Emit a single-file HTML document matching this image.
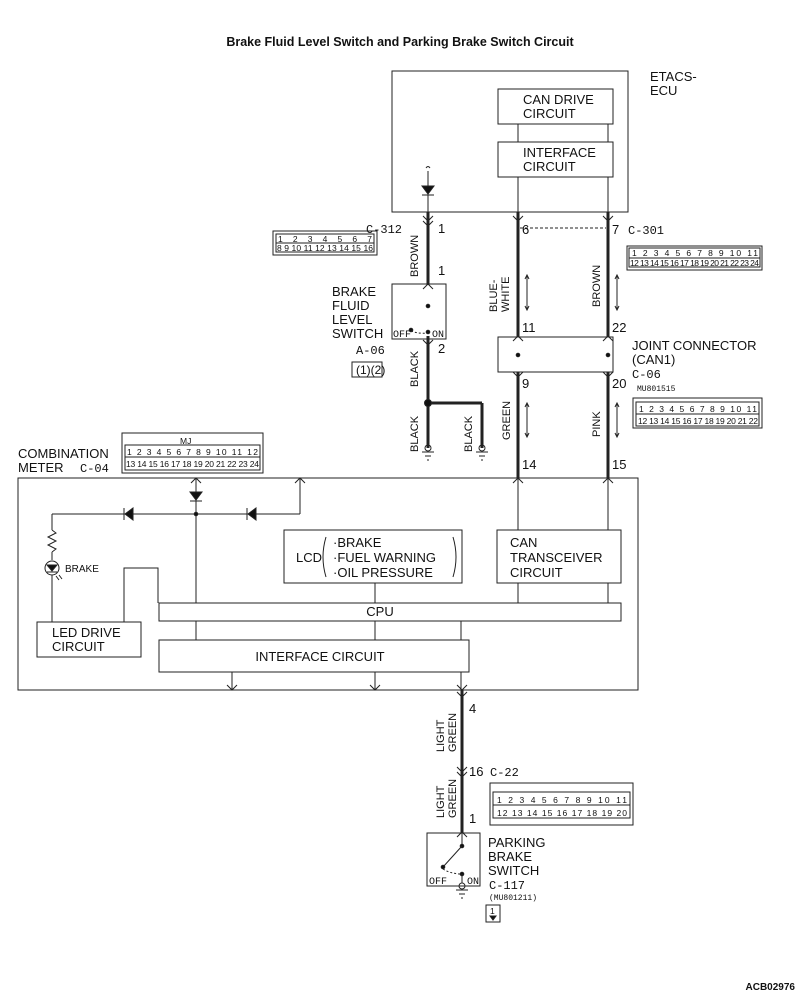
<!DOCTYPE html>
<html><head><meta charset="utf-8"><style>
html,body{margin:0;padding:0;background:#fff;width:800px;height:994px;overflow:hidden}
svg{display:block}
text{font-family:"Liberation Sans",sans-serif;fill:#111}
.t{font-size:13px}
.s{font-size:12px}
.c{font-size:8.5px}
.m{font-family:"Liberation Mono",monospace;font-size:12px}
</style></head><body>
<svg width="800" height="994" viewBox="0 0 800 994" xmlns="http://www.w3.org/2000/svg" fill="none" stroke="#222" stroke-width="1">
<text x="400" y="46" text-anchor="middle" style="font-size:12.5px;font-weight:bold" stroke="none">Brake Fluid Level Switch and Parking Brake Switch Circuit</text>

<!-- ETACS ECU -->
<rect x="392" y="71" width="236" height="141"/>
<text x="650" y="81" class="t" stroke="none">ETACS-</text>
<text x="650" y="95" class="t" stroke="none">ECU</text>
<rect x="498" y="89" width="115" height="35"/>
<text x="523" y="104" class="t" stroke="none">CAN DRIVE</text>
<text x="523" y="118" class="t" stroke="none">CIRCUIT</text>
<rect x="498" y="142" width="115" height="35"/>
<text x="523" y="157" class="t" stroke="none">INTERFACE</text>
<text x="523" y="171" class="t" stroke="none">CIRCUIT</text>
<line x1="518" y1="124" x2="518" y2="142"/><line x1="608" y1="124" x2="608" y2="142"/>
<line x1="518" y1="177" x2="518" y2="212"/><line x1="608" y1="177" x2="608" y2="212"/>
<line x1="428" y1="171" x2="428" y2="212"/>
<path d="M426 168 q2 -3 4 0" />
<polygon points="422,186 434,186 428,194" fill="#111"/><line x1="422" y1="195" x2="434" y2="195"/>
<line x1="520" y1="228" x2="606" y2="228" stroke-dasharray="3,2"/>

<!-- main wires -->
<g stroke-width="3">
<line x1="428" y1="212" x2="428" y2="285"/>
<line x1="428" y1="336" x2="428" y2="448"/>
<line x1="428" y1="403" x2="482" y2="403"/><line x1="482" y1="403" x2="482" y2="448"/>
<line x1="518" y1="212" x2="518" y2="337"/>
<line x1="518" y1="372" x2="518" y2="478"/>
<line x1="608" y1="212" x2="608" y2="337"/>
<line x1="608" y1="372" x2="608" y2="478"/>
<line x1="462" y1="690" x2="462" y2="833"/>
</g>
<circle cx="428" cy="403" r="3.5" fill="#111"/>
<!-- chevrons -->
<g stroke-width="1">
<path d="M423 216 l5 5 l5 -5 M423 221 l5 5 l5 -5"/>
<path d="M513 216 l5 5 l5 -5 M603 216 l5 5 l5 -5"/>
<path d="M423 289 l5 -5 l5 5 M423 340 l5 5 l5 -5"/>
<path d="M513 341 l5 -5 l5 5 M603 341 l5 -5 l5 5 M513 372 l5 5 l5 -5 M603 372 l5 5 l5 -5"/>
<path d="M513 483 l5 -5 l5 5 M603 483 l5 -5 l5 5"/>
<path d="M457 767 l5 5 l5 -5 M457 772 l5 5 l5 -5 M457 837 l5 -5 l5 5"/>
</g>
<!-- grounds -->
<g>
<circle cx="428" cy="448" r="3"/><line x1="422" y1="452" x2="434" y2="452"/><line x1="425" y1="456" x2="431" y2="456"/><line x1="427" y1="460" x2="429" y2="460"/>
<circle cx="482" cy="448" r="3"/><line x1="476" y1="452" x2="488" y2="452"/><line x1="479" y1="456" x2="485" y2="456"/><line x1="481" y1="460" x2="483" y2="460"/>
</g>
<!-- wire labels -->
<text x="366" y="233" class="m" stroke="none">C-312</text>
<text x="438" y="233" class="t" stroke="none">1</text>
<text x="438" y="275" class="t" stroke="none">1</text>
<text x="438" y="353" class="t" stroke="none">2</text>
<text x="522" y="234" class="t" stroke="none">6</text>
<text x="612" y="234" class="t" stroke="none">7</text>
<text x="628" y="234" class="m" stroke="none">C-301</text>
<text x="522" y="332" class="t" stroke="none">11</text>
<text x="612" y="332" class="t" stroke="none">22</text>
<text x="522" y="388" class="t" stroke="none">9</text>
<text x="612" y="388" class="t" stroke="none">20</text>
<text x="522" y="469" class="t" stroke="none">14</text>
<text x="612" y="469" class="t" stroke="none">15</text>
<g stroke="none" style="font-size:11px">
<text transform="translate(418,277) rotate(-90)">BROWN</text>
<text transform="translate(418,387) rotate(-90)">BLACK</text>
<text transform="translate(418,452) rotate(-90)">BLACK</text>
<text transform="translate(472,452) rotate(-90)">BLACK</text>
<text transform="translate(497,312) rotate(-90)">BLUE-</text>
<text transform="translate(509,312) rotate(-90)">WHITE</text>
<text transform="translate(600,307) rotate(-90)">BROWN</text>
<text transform="translate(510,440) rotate(-90)">GREEN</text>
<text transform="translate(600,437) rotate(-90)">PINK</text>
<text transform="translate(444,752) rotate(-90)">LIGHT</text>
<text transform="translate(456,752) rotate(-90)">GREEN</text>
<text transform="translate(444,818) rotate(-90)">LIGHT</text>
<text transform="translate(456,818) rotate(-90)">GREEN</text>
</g>
<!-- double arrows -->
<g>
<line x1="527" y1="275" x2="527" y2="310"/><path d="M525 279 l2 -4 l2 4 M525 306 l2 4 l2 -4"/>
<line x1="617" y1="275" x2="617" y2="310"/><path d="M615 279 l2 -4 l2 4 M615 306 l2 4 l2 -4"/>
<line x1="527" y1="403" x2="527" y2="437"/><path d="M525 407 l2 -4 l2 4 M525 433 l2 4 l2 -4"/>
<line x1="617" y1="403" x2="617" y2="437"/><path d="M615 407 l2 -4 l2 4 M615 433 l2 4 l2 -4"/>
</g>

<!-- brake fluid switch -->
<rect x="392" y="284" width="54" height="55"/>
<circle cx="428" cy="306" r="1.8" fill="#111"/><circle cx="411" cy="330" r="1.8" fill="#111"/><circle cx="428" cy="332" r="1.8" fill="#111"/>
<path d="M411 331 q8 3 16 2" stroke-dasharray="2,2"/>
<text x="332" y="296" class="t" stroke="none">BRAKE</text>
<text x="332" y="310" class="t" stroke="none">FLUID</text>
<text x="332" y="324" class="t" stroke="none">LEVEL</text>
<text x="332" y="338" class="t" stroke="none">SWITCH</text>
<text x="393" y="337" class="m" stroke="none" style="font-size:10px">OFF</text>
<text x="432" y="337" class="m" stroke="none" style="font-size:10px">ON</text>
<text x="356" y="354" class="m" stroke="none">A-06</text>
<rect x="352" y="362" width="30" height="15"/><text x="356" y="374" class="s" stroke="none">(1)(2)</text>

<!-- joint connector -->
<rect x="498" y="337" width="115" height="35"/>
<circle cx="518" cy="355" r="1.8" fill="#111"/><circle cx="608" cy="355" r="1.8" fill="#111"/>
<text x="632" y="350" class="t" stroke="none">JOINT CONNECTOR</text>
<text x="632" y="364" class="t" stroke="none">(CAN1)</text>
<text x="632" y="378" class="m" stroke="none">C-06</text>
<text x="637" y="391" class="m" stroke="none" style="font-size:8px">MU801515</text>

<!-- connector C-312 -->
<rect x="273" y="231" width="104" height="24"/>
<rect x="276" y="234" width="98" height="18"/><line x1="276" y1="243" x2="374" y2="243"/>
<text x="278" y="242" class="c" stroke="none" textLength="94" lengthAdjust="spacing">1 2 3 4    5 6 7</text>
<text x="277" y="251" class="c" stroke="none" textLength="96" lengthAdjust="spacing">8 9 10 11 12 13 14 15 16</text>
<!-- connector C-301 -->
<rect x="627" y="246" width="135" height="24"/>
<rect x="629" y="248" width="131" height="19"/><line x1="629" y1="258" x2="760" y2="258"/>
<text x="632" y="256" class="c" stroke="none" textLength="126" lengthAdjust="spacing">1 2 3 4 5      6 7 8 9 10 11</text>
<text x="630" y="266" class="c" stroke="none" textLength="129" lengthAdjust="spacing">12 13 14 15 16 17 18 19 20 21 22 23 24</text>
<!-- connector C-06 -->
<rect x="633" y="398" width="129" height="30"/>
<rect x="636" y="402" width="123" height="24"/><line x1="636" y1="414" x2="759" y2="414"/>
<text x="639" y="412" class="c" stroke="none" textLength="118" lengthAdjust="spacing">1 2 3 4 5 6 7 8 9 10 11</text>
<text x="638" y="424" class="c" stroke="none" textLength="120" lengthAdjust="spacing">12 13 14 15 16 17 18 19 20 21 22</text>
<!-- connector C-04 -->
<rect x="122" y="433" width="141" height="40"/>
<rect x="125" y="445" width="135" height="25"/><line x1="125" y1="457" x2="260" y2="457"/>
<text x="180" y="444" class="c" stroke="none">MJ</text>
<text x="127" y="455" class="c" stroke="none" textLength="131" lengthAdjust="spacing">1 2 3 4 5 6 7 8 9 10 11 12</text>
<text x="126" y="467" class="c" stroke="none" textLength="133" lengthAdjust="spacing">13 14 15 16 17 18 19 20 21 22 23 24</text>
<text x="18" y="458" class="t" stroke="none">COMBINATION</text>
<text x="18" y="472" class="t" stroke="none">METER</text>
<text x="80" y="472" class="m" stroke="none">C-04</text>

<!-- combination meter -->
<rect x="18" y="478" width="620" height="212"/>
<line x1="196" y1="478" x2="196" y2="603"/>
<path d="M191 483 l5 -5 l5 5"/>
<polygon points="190,492 202,492 196,500" fill="#111"/><line x1="190" y1="501" x2="202" y2="501"/>
<line x1="52" y1="514" x2="300" y2="514"/><line x1="300" y1="514" x2="300" y2="478"/>
<path d="M295 483 l5 -5 l5 5"/>
<circle cx="196" cy="514" r="1.8" fill="#111"/>
<polygon points="133,508 133,520 125,514" fill="#111"/><line x1="124" y1="508" x2="124" y2="520"/>
<polygon points="256,508 256,520 248,514" fill="#111"/><line x1="247" y1="508" x2="247" y2="520"/>
<line x1="52" y1="514" x2="52" y2="530"/>
<path d="M52 530 l4 3 l-8 4 l8 4 l-8 4 l8 4 l-4 3"/>
<line x1="52" y1="552" x2="52" y2="560"/>
<circle cx="52" cy="568" r="7"/><polygon points="47,565 57,565 52,571" fill="#111"/><line x1="47" y1="572" x2="57" y2="572"/>
<path d="M56 576 l3 4 M59 575 l3 4"/>
<text x="65" y="572" stroke="none" style="font-size:10px">BRAKE</text>
<line x1="52" y1="575" x2="52" y2="622"/>
<rect x="37" y="622" width="104" height="35"/>
<text x="52" y="637" class="t" stroke="none">LED DRIVE</text>
<text x="52" y="651" class="t" stroke="none">CIRCUIT</text>
<path d="M124 622 V568 H158 V603"/>
<rect x="284" y="530" width="178" height="53"/>
<text x="296" y="562" class="t" stroke="none">LCD</text>
<path d="M326 537 q-6 20 0 40 M453 537 q6 20 0 40"/>
<text x="333" y="547" class="t" stroke="none">·BRAKE</text>
<text x="333" y="562" class="t" stroke="none">·FUEL WARNING</text>
<text x="333" y="577" class="t" stroke="none">·OIL PRESSURE</text>
<rect x="497" y="530" width="124" height="53"/>
<text x="510" y="547" class="t" stroke="none">CAN</text>
<text x="510" y="562" class="t" stroke="none">TRANSCEIVER</text>
<text x="510" y="577" class="t" stroke="none">CIRCUIT</text>
<line x1="518" y1="478" x2="518" y2="530"/><line x1="608" y1="478" x2="608" y2="530"/>
<line x1="518" y1="583" x2="518" y2="603"/><line x1="608" y1="583" x2="608" y2="603"/>
<line x1="375" y1="583" x2="375" y2="603"/>
<rect x="159" y="603" width="462" height="18"/>
<text x="380" y="616" class="t" text-anchor="middle" stroke="none">CPU</text>
<line x1="196" y1="621" x2="196" y2="640"/><line x1="375" y1="621" x2="375" y2="640"/><line x1="461" y1="621" x2="461" y2="640"/>
<rect x="159" y="640" width="310" height="32"/>
<text x="320" y="661" class="t" text-anchor="middle" stroke="none">INTERFACE CIRCUIT</text>
<line x1="232" y1="672" x2="232" y2="690"/><line x1="375" y1="672" x2="375" y2="690"/><line x1="461" y1="672" x2="461" y2="690"/>
<path d="M227 685 l5 5 l5 -5 M370 685 l5 5 l5 -5 M457 685 l5 5 l5 -5 M457 692 l5 5 l5 -5"/>

<!-- lower -->
<text x="469" y="713" class="t" stroke="none">4</text>
<text x="469" y="776" class="t" stroke="none">16</text>
<text x="490" y="776" class="m" stroke="none">C-22</text>
<text x="469" y="823" class="t" stroke="none">1</text>
<rect x="490" y="783" width="143" height="42"/>
<rect x="493" y="792" width="137" height="26"/><line x1="493" y1="805" x2="630" y2="805"/>
<text x="497" y="803" class="c" stroke="none" textLength="130" lengthAdjust="spacing">1 2 3 4 5 6 7 8 9 10 11</text>
<text x="497" y="816" class="c" stroke="none" textLength="130" lengthAdjust="spacing">12 13 14    15 16 17    18 19 20</text>

<rect x="427" y="833" width="53" height="53"/>
<line x1="462" y1="833" x2="462" y2="846"/>
<circle cx="462" cy="846" r="1.8" fill="#111"/><line x1="462" y1="846" x2="443" y2="867"/>
<circle cx="443" cy="867" r="1.8" fill="#111"/><circle cx="462" cy="874" r="1.8" fill="#111"/>
<path d="M443 869 q8 5 19 5" stroke-dasharray="2,2"/>
<line x1="462" y1="874" x2="462" y2="883"/>
<circle cx="462" cy="886" r="3"/><line x1="456" y1="890" x2="468" y2="890"/><line x1="459" y1="894" x2="465" y2="894"/><line x1="461" y1="898" x2="463" y2="898"/>
<text x="429" y="884" class="m" stroke="none" style="font-size:10px">OFF</text>
<text x="467" y="884" class="m" stroke="none" style="font-size:10px">ON</text>
<text x="488" y="847" class="t" stroke="none">PARKING</text>
<text x="488" y="861" class="t" stroke="none">BRAKE</text>
<text x="488" y="875" class="t" stroke="none">SWITCH</text>
<text x="489" y="889" class="m" stroke="none">C-117</text>
<text x="489" y="900" stroke="none" style="font-size:8px;font-family:'Liberation Mono',monospace">(MU801211)</text>
<rect x="486" y="905" width="14" height="17"/><text x="490" y="914" class="c" stroke="none">1</text>
<polygon points="490,916 496,916 493,920" fill="#111"/>

<text x="795" y="990" text-anchor="end" stroke="none" style="font-size:10px;font-weight:bold">ACB02976</text>
</svg>
</body></html>
